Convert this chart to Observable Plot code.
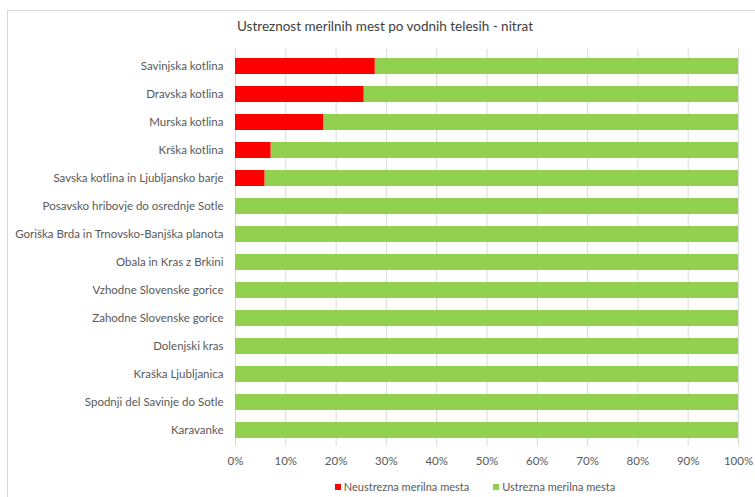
<!DOCTYPE html>
<html>
<head>
<meta charset="utf-8">
<script src="https://cdn.jsdelivr.net/npm/d3@7"></script>
<script src="https://cdn.jsdelivr.net/npm/@observablehq/plot@0.6"></script>
<style>
  html, body { margin: 0; padding: 0; background: #fff; overflow: hidden; }
  #wrap { position: relative; width: 755px; height: 497px; font-family: Lato, "Noto Sans", sans-serif; }
  #frame { position: absolute; left: 7px; top: 10px; width: 800px; height: 600px; border: 1px solid #d9d9d9; box-sizing: border-box; }
  #title { position: absolute; top: 18px; left: 0; width: 770px; text-align: center; font-size: 13.5px; color: #404040; }
  #chart { position: absolute; left: 0; top: 0; }
  #legend { position: absolute; top: 480px; left: 0; width: 950px; text-align: center; font-size: 11px; color: #595959; }
  #legend span.sw { display: inline-block; width: 6px; height: 6px; margin-right: 3px; vertical-align: 1px; }
  #legend span.item { margin: 0 12px; }
</style>
</head>
<body>
<div id="wrap">
  <div id="frame"></div>
  <div id="title">Ustreznost merilnih mest po vodnih telesih - nitrat</div>
  <div id="chart"></div>
  <div id="legend"></div>
</div>
<script>
const categories = [
  "Savinjska kotlina",
  "Dravska kotlina",
  "Murska kotlina",
  "Krška kotlina",
  "Savska kotlina in Ljubljansko barje",
  "Posavsko hribovje do osrednje Sotle",
  "Goriška Brda in Trnovsko-Banjška planota",
  "Obala in Kras z Brkini",
  "Vzhodne Slovenske gorice",
  "Zahodne Slovenske gorice",
  "Dolenjski kras",
  "Kraška Ljubljanica",
  "Spodnji del Savinje do Sotle",
  "Karavanke"
];
const neustrezna = [27.8, 25.6, 17.6, 7.1, 5.9, 0, 0, 0, 0, 0, 0, 0, 0, 0];
const ustrezna = neustrezna.map(v => 100 - v);
const seriesNames = ["Neustrezna merilna mesta", "Ustrezna merilna mesta"];
const seriesColors = ["#ff0000", "#92d050"];
const xTicks = [0, 10, 20, 30, 40, 50, 60, 70, 80, 90, 100];

const data = [];
categories.forEach((c, i) => {
  data.push({cat: c, series: seriesNames[0], value: neustrezna[i]});
  data.push({cat: c, series: seriesNames[1], value: ustrezna[i]});
});

const plot = Plot.plot({
  width: 755,
  height: 475,
  marginLeft: 235,
  marginRight: 17,
  marginTop: 49,
  marginBottom: 29,
  style: {fontFamily: "Lato, 'Noto Sans', sans-serif", fontSize: "11.5px", color: "#595959", background: "transparent"},
  x: {domain: [0, 100], ticks: xTicks, tickFormat: d => d + "%", tickSize: 0, tickPadding: 10, label: null},
  y: {domain: categories, paddingInner: 0.44, paddingOuter: 0.22, tickSize: 0, tickPadding: 12, label: null},
  color: {domain: seriesNames, range: seriesColors},
  marks: [
    Plot.gridX(xTicks, {stroke: "#d9d9d9", strokeOpacity: 1}),
    Plot.barX(data, Plot.stackX({y: "cat", x: "value", fill: "series", order: seriesNames})),
    Plot.axisX({ticks: xTicks, tickFormat: d => d + "%", tickSize: 0, tickPadding: 10, label: null, fill: "#595959"}),
    Plot.axisY({tickSize: 0, tickPadding: 12, label: null, fill: "#595959"})
  ]
});
document.getElementById("chart").appendChild(plot);

const legend = document.getElementById("legend");
legend.innerHTML = seriesNames.map((n, i) =>
  `<span class="item"><span class="sw" style="background:${seriesColors[i]}"></span>${n}</span>`).join("");
</script>
</body>
</html>
